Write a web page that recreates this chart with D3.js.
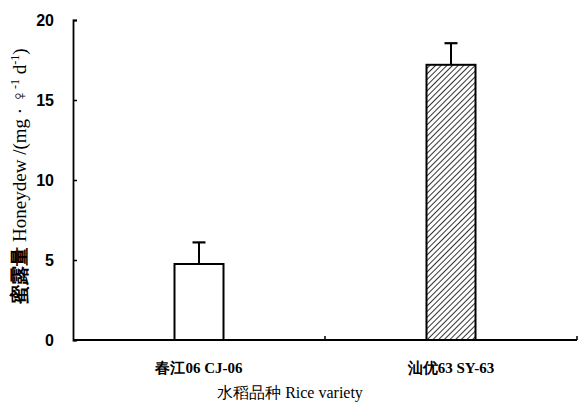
<!DOCTYPE html>
<html>
<head>
<meta charset="utf-8">
<script src="https://cdn.jsdelivr.net/npm/d3@7"></script>
<style>
  body { margin: 0; background: #fff; }
  svg { display: block; }
</style>
</head>
<body>
<svg id="chart"></svg>
<script>
const WIDTH = 584;
const HEIGHT = 412;
const MARGIN = { LEFT: 73, RIGHT: 7, TOP: 20, BOTTOM: 72 };

const varieties = ['春江06 CJ-06', '汕优63 SY-63'];
const honeydew = [4.75, 17.2];
const errors = [1.35, 1.35];
const fills = ['white', 'url(#hatch)'];
const yTicks = [0, 5, 10, 15, 20];

const svg = d3.select('#chart').attr('width', WIDTH).attr('height', HEIGHT);

// diagonal hatch for the second bar
const pattern = svg.append('defs').append('pattern')
  .attr('id', 'hatch')
  .attr('patternUnits', 'userSpaceOnUse')
  .attr('width', 4).attr('height', 4)
  .attr('patternTransform', 'rotate(45)');
pattern.append('rect').attr('width', 4).attr('height', 4).attr('fill', '#fff');
pattern.append('line').attr('x1', 0).attr('y1', 0).attr('x2', 0).attr('y2', 4)
  .attr('stroke', '#000').attr('stroke-width', 1.6);

const innerW = WIDTH - MARGIN.LEFT - MARGIN.RIGHT;
const innerH = HEIGHT - MARGIN.TOP - MARGIN.BOTTOM;

const x = d3.scaleBand().domain(varieties).range([0, innerW]);
const y = d3.scaleLinear().domain([0, 20]).range([innerH, 0]);

const g = svg.append('g').attr('transform', `translate(${MARGIN.LEFT}, ${MARGIN.TOP})`);

// y axis, ticks pointing inward
const yAxis = g.append('g')
  .call(d3.axisLeft(y).tickValues(yTicks).tickSize(-4).tickPadding(19));
yAxis.select('.domain').attr('stroke-width', 1.8);
yAxis.selectAll('.tick line').attr('stroke-width', 1.5);
yAxis.selectAll('text')
  .attr('font-family', 'Liberation Sans, Arial, sans-serif')
  .attr('font-weight', 'bold').attr('font-size', 16).attr('fill', '#000');

// x axis with upward ticks at band edges
const xAxis = g.append('g').attr('transform', `translate(0, ${innerH})`);
xAxis.append('line').attr('x1', 0).attr('x2', innerW).attr('y1', 0).attr('y2', 0)
  .attr('stroke', '#000').attr('stroke-width', 1.8);
const edges = [x.step(), innerW];
xAxis.selectAll('.edge').data(edges).join('line')
  .attr('x1', (d) => d).attr('x2', (d) => d).attr('y1', 0).attr('y2', -4)
  .attr('stroke', '#000').attr('stroke-width', 1.5);
xAxis.selectAll('.label').data(varieties).join('text')
  .attr('x', (d) => x(d) + x.bandwidth() / 2)
  .attr('y', 33)
  .attr('text-anchor', 'middle')
  .attr('font-family', 'Liberation Serif, Times New Roman, serif')
  .attr('font-weight', 'bold').attr('font-size', 15)
  .text((d) => d);

// bars
const barW = 49;
g.selectAll('.bar').data(varieties).join('rect')
  .attr('x', (d) => x(d) + x.bandwidth() / 2 - barW / 2)
  .attr('y', (d, i) => y(honeydew[i]))
  .attr('width', barW)
  .attr('height', (d, i) => innerH - y(honeydew[i]))
  .attr('fill', (d, i) => fills[i])
  .attr('stroke', '#000').attr('stroke-width', 2);

// upper error bars
const capW = 13;
varieties.forEach((d, i) => {
  const cx = x(d) + x.bandwidth() / 2;
  g.append('line').attr('x1', cx).attr('x2', cx)
    .attr('y1', y(honeydew[i])).attr('y2', y(honeydew[i] + errors[i]))
    .attr('stroke', '#000').attr('stroke-width', 2);
  g.append('line').attr('x1', cx - capW / 2).attr('x2', cx + capW / 2)
    .attr('y1', y(honeydew[i] + errors[i])).attr('y2', y(honeydew[i] + errors[i]))
    .attr('stroke', '#000').attr('stroke-width', 2.2);
});

// axis titles
svg.append('text')
  .attr('x', 290)
  .attr('y', 398)
  .attr('text-anchor', 'middle')
  .attr('font-family', 'Liberation Serif, Times New Roman, serif')
  .attr('font-size', 16)
  .text('水稻品种 Rice variety');

const yTitle = svg.append('text')
  .attr('transform', 'translate(26, 176) rotate(-90)')
  .attr('text-anchor', 'middle')
  .attr('font-family', 'Liberation Serif, Times New Roman, serif')
  .attr('font-size', 19);
yTitle.append('tspan').attr('font-weight', 'bold').text('蜜露量 ');
yTitle.append('tspan').text('Honeydew /(mg · ♀');
yTitle.append('tspan').attr('dy', -7).attr('font-size', 12).text('-1');
yTitle.append('tspan').attr('dy', 7).text(' d');
yTitle.append('tspan').attr('dy', -7).attr('font-size', 12).text('-1');
yTitle.append('tspan').attr('dy', 7).text(')');
</script>
</body>
</html>
